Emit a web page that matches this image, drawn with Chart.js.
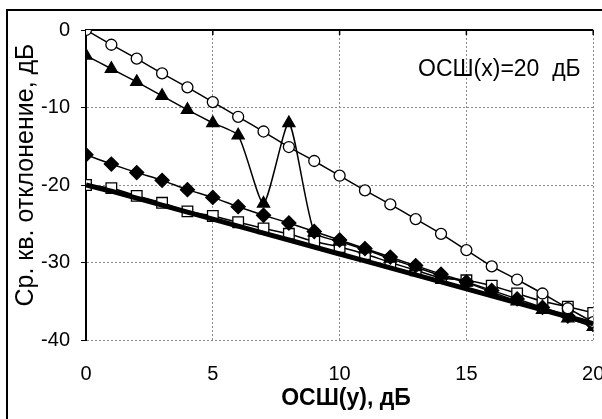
<!DOCTYPE html>
<html>
<head>
<meta charset="utf-8">
<script src="https://cdn.jsdelivr.net/npm/chart.js@4"></script>
<style>
  html, body { margin: 0; padding: 0; background: #fff; }
  #wrap { width: 602px; height: 419px; }
</style>
</head>
<body>
<div id="wrap"><canvas id="c" width="602" height="419"></canvas></div>
<script>
// ОСШ(у), дБ
const snrY = [0,1,2,3,4,5,6,7,8,9,10,11,12,13,14,15,16,17,18,19,20];

// значения, дБ
const circles   = [0,-1.9,-3.7,-5.6,-7.4,-9.3,-11.2,-13.1,-15.1,-16.9,-18.8,-20.7,-22.5,-24.4,-26.3,-28.4,-30.5,-32.2,-34.0,-35.9,-37.7];
const triangles = [-3.3,-5.0,-6.7,-8.5,-10.3,-12.0,-13.6,-22.4,-12.0,-26.1,-27.3,-28.3,-29.5,-30.6,-31.7,-32.6,-33.8,-35.0,-36.1,-37.2,-38.3];
const diamonds  = [-16.1,-17.3,-18.4,-19.4,-20.6,-21.6,-22.8,-23.9,-24.9,-26.0,-27.1,-28.2,-29.3,-30.4,-31.5,-32.5,-33.6,-34.7,-35.8,-36.9,-38.0];
const squares   = [-20.0,-20.4,-21.4,-22.3,-23.4,-24.0,-24.8,-25.6,-26.3,-27.3,-28.0,-28.9,-30.0,-31.0,-32.0,-32.3,-33.0,-34.0,-35.0,-35.7,-36.5];
const thickLine = [-20.0,-20.8,-21.7,-22.6,-23.5,-24.4,-25.3,-26.2,-27.1,-28.0,-28.9,-29.8,-30.7,-31.6,-32.5,-33.4,-34.3,-35.2,-36.1,-37.0,-37.9];

const xTicks = [0,5,10,15,20];
const yTicks = [0,-10,-20,-30,-40];
const xTitle = 'ОСШ(у), дБ';
const yTitle = 'Ср. кв. отклонение, дБ';
const note = 'ОСШ(х)=20  дБ';

const FONT = 'Arial, "Liberation Sans", sans-serif';

const pts = arr => arr.map((v, i) => ({ x: snrY[i], y: v }));

function series(data, style, order) {
  return Object.assign({
    data: pts(data),
    borderColor: '#000',
    borderWidth: 1.5,
    pointBorderColor: '#000',
    pointBorderWidth: 1.3,
    tension: 0.2,
    order,
  }, style);
}

// рамка, верхняя ось, подписи
const extras = {
  id: 'extras',
  beforeDraw(chart) {
    const ctx = chart.ctx;
    ctx.save();
    ctx.fillStyle = '#fff';
    ctx.fillRect(0, 0, chart.width, chart.height);
    ctx.strokeStyle = '#000';
    ctx.lineWidth = 2;
    ctx.strokeRect(7, 10, chart.width + 20, chart.height + 20);

    ctx.fillStyle = '#000';
    ctx.textAlign = 'center';
    ctx.textBaseline = 'middle';
    ctx.font = 'bold 23px ' + FONT;
    ctx.fillText(xTitle, 346, 399);
    ctx.translate(26, 175);
    ctx.rotate(-Math.PI / 2);
    ctx.font = '25px ' + FONT;
    ctx.fillText(yTitle, 0, 0);
    ctx.restore();
  },
  beforeDatasetsDraw(chart) {
    const { ctx, chartArea, scales } = chart;
    ctx.save();
    ctx.strokeStyle = '#000';
    ctx.lineWidth = 2;
    ctx.beginPath();
    ctx.moveTo(chartArea.left, chartArea.top);
    ctx.lineTo(chartArea.right, chartArea.top);
    ctx.stroke();
    ctx.lineWidth = 1.5;
    xTicks.forEach(v => {
      const px = scales.x.getPixelForValue(v);
      ctx.beginPath();
      ctx.moveTo(px, chartArea.top);
      ctx.lineTo(px, chartArea.top + 5);
      ctx.stroke();
    });
    ctx.fillStyle = '#000';
    ctx.font = '23px ' + FONT;
    ctx.textBaseline = 'middle';
    ctx.fillText(note, 418, 70);
    ctx.restore();
  },
};

new Chart(document.getElementById('c'), {
  type: 'line',
  data: {
    datasets: [
      series(thickLine, { borderWidth: 5, pointRadius: 0, tension: 0 }, 1),
      series(circles,   { pointStyle: 'circle',   pointRadius: 5.5, pointBackgroundColor: '#fff' }, 2),
      series(triangles, { pointStyle: 'triangle', pointRadius: 7,   pointBackgroundColor: '#000' }, 3),
      series(diamonds,  { pointStyle: 'rectRot',  pointRadius: 7,   pointBackgroundColor: '#000' }, 4),
      series(squares,   { pointStyle: 'rect',     pointRadius: 7.5, pointBackgroundColor: '#fff' }, 5),
    ],
  },
  plugins: [extras],
  options: {
    responsive: false,
    animation: false,
    layout: { padding: { top: 30, right: 7, left: 0, bottom: 0 } },
    plugins: { legend: { display: false }, tooltip: { enabled: false } },
    scales: {
      x: {
        type: 'linear',
        min: 0, max: 20,
        afterFit: s => { s.height = 79; s.paddingLeft = 0; s.paddingRight = 0; },
        afterBuildTicks: s => { s.ticks = xTicks.map(v => ({ value: v })); },
        ticks: { font: { family: FONT, size: 20 }, color: '#000', padding: 22, maxRotation: 0 },
        grid: { color: '#8a8a8a', lineWidth: 1, drawTicks: false },
        border: { display: false, dash: [2, 2] },
      },
      y: {
        min: -40, max: 0,
        afterFit: s => { s.width = 86; s.paddingTop = 0; s.paddingBottom = 0; },
        afterBuildTicks: s => { s.ticks = yTicks.map(v => ({ value: v })); },
        ticks: { font: { family: FONT, size: 20 }, color: '#000', padding: 11 },
        grid: { color: '#8a8a8a', lineWidth: 1, tickLength: 5, tickColor: '#000' },
        border: { display: true, color: '#000', width: 2, dash: [2, 2] },
      },
    },
  },
});
</script>
</body>
</html>
